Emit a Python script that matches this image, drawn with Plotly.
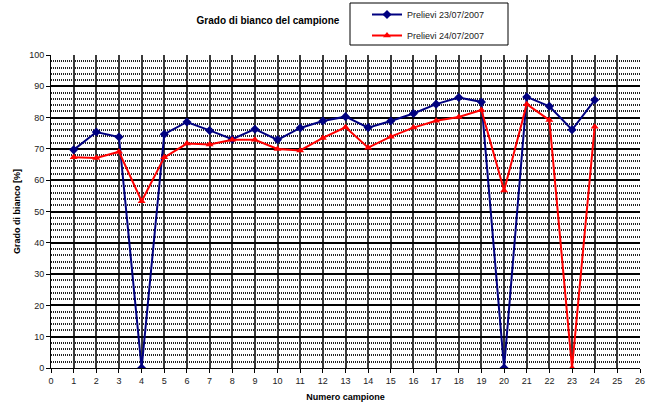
import plotly.graph_objects as go

campioni = list(range(1, 25))
prelievi_23 = [69.7, 75.4, 73.8, 0, 74.7, 78.6, 75.9, 73.1, 76.3, 72.9, 76.7, 78.9,
               80.3, 76.8, 78.9, 81.3, 84.3, 86.4, 85.0, 0, 86.6, 83.6, 76.1, 85.6]
prelievi_24 = [67.3, 67.1, 69.1, 53.3, 67.3, 71.7, 71.4, 72.9, 72.9, 70.0, 69.5, 73.5,
               76.9, 70.4, 73.9, 76.8, 79.0, 80.2, 82.4, 56.7, 84.3, 79.2, 0, 77.1]

FONT = "Liberation Sans, Arial, sans-serif"

W, H = 655, 406
ML, MR, MT, MB = 51, 15, 0, 38
PW = W - ML - MR          # 589
PH = H - MT - MB          # 368 (paper height)
PLOT_TOP = 55             # pixel of y=100
dom_top = (H - MB - PLOT_TOP) / PH


def px_y(p):
    return (H - MB - p) / PH


def px_x(p):
    return (p - ML) / PW


fig = go.Figure()
fig.add_trace(go.Scatter(
    x=campioni, y=prelievi_23, mode="lines+markers", name="Prelievi 23/07/2007",
    line=dict(color="#000080", width=2), marker=dict(symbol="diamond", size=7, color="#000080"),
    legendgroup="a"))
fig.add_trace(go.Scatter(
    x=campioni, y=prelievi_24, mode="lines+markers", name="Prelievi 24/07/2007",
    line=dict(color="#ff0000", width=2), marker=dict(symbol="triangle-up", size=7, color="#ff0000"),
    legendgroup="b"))

fig.update_layout(
    width=W, height=H,
    margin=dict(l=ML, r=MR, t=MT, b=MB, autoexpand=False),
    paper_bgcolor="white", plot_bgcolor="white",
    font=dict(family=FONT, size=9, color="#222"),
    title=dict(text="<b>Grado di bianco del campione</b>", x=px_x(268), xref="paper",
               xanchor="center", y=1 - 20.5 / H, yref="container", yanchor="middle",
               font=dict(family=FONT, size=10, color="black")),
    xaxis=dict(range=[0, 26], dtick=1, tick0=0, showgrid=True, gridcolor="#3a3a3a", gridwidth=1.5,
               showline=True, linecolor="black", linewidth=1, ticks="outside", ticklen=4,
               tickcolor="black", zeroline=False, automargin=False,
               title=dict(text="<b>Numero campione</b>", font=dict(family=FONT, size=9, color="black"),
                          standoff=8)),
    yaxis=dict(range=[0, 100], dtick=10, tick0=0, showgrid=True, gridcolor="black", gridwidth=1.5,
               showline=True, linecolor="black", linewidth=1, ticks="outside", ticklen=4,
               tickcolor="black", zeroline=False, automargin=False, domain=[0, dom_top],
               minor=dict(dtick=2, tick0=0, showgrid=True, gridcolor="#222", griddash="1px,1px",
                          gridwidth=1.5),
               title=dict(text="<b>Grado di bianco [%]</b>", font=dict(family=FONT, size=9, color="black"),
                          standoff=7)),
    legend=dict(x=px_x(367), y=1, xanchor="left", yanchor="top",
                bgcolor="rgba(0,0,0,0)", borderwidth=0, tracegroupgap=2,
                traceorder="grouped", itemwidth=30,
                font=dict(family=FONT, size=9, color="#222")),
    shapes=[dict(type="rect", xref="paper", yref="paper",
                 x0=px_x(350), x1=px_x(508),
                 y0=px_y(45), y1=px_y(3),
                 line=dict(color="black", width=1), fillcolor="rgba(0,0,0,0)")],
)

fig.write_html("out.html", config={"displayModeBar": False},
               post_script="document.body.style.margin='0';")
